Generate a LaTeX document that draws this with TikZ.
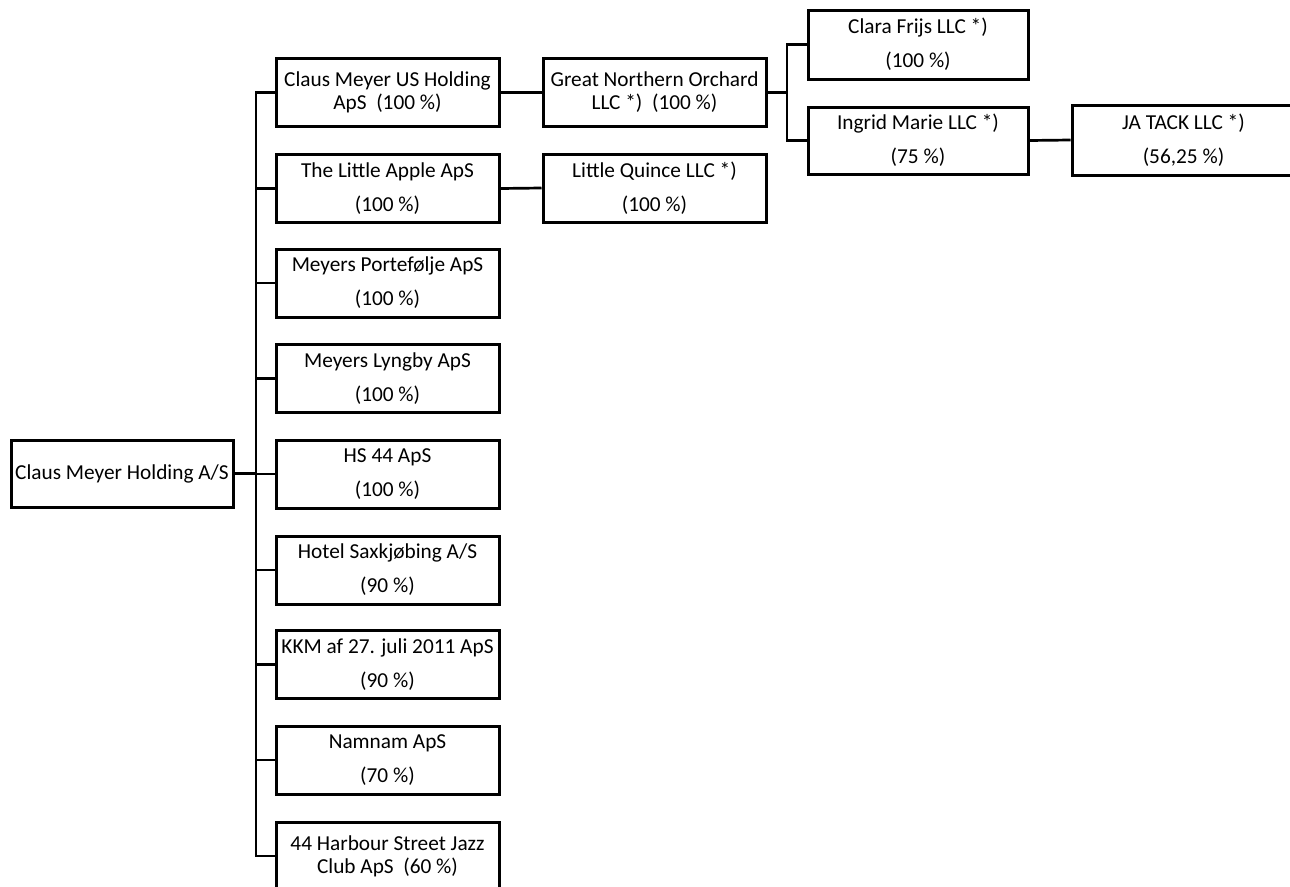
\documentclass[tikz,border=0pt]{standalone}
\usepackage{fontspec}
\setmainfont{Carlito}
\tikzset{%
  firm/.style={draw, line width=3pt, minimum width=223pt, minimum height=68pt,
    inner sep=0pt, align=center, font=\fontsize{21.3}{23}\selectfont},
  link/.style={line width=2.7pt}
}

\begin{document}
\begin{tikzpicture}[x=1pt,y=-1pt]
\clip (0,0) rectangle (1290,886);
% parent
\node[firm, minimum width=222pt, minimum height=67pt] (holding) at (122,473.5) {Claus Meyer Holding A/S};
% first level
\node[firm] (usholding) at (387.5,92.5) {Claus Meyer US Holding\\ApS\ \ (100 \%)};
\node[firm] (apple) at (387.5,188.5) {The Little Apple ApS\\[11pt](100 \%)};
\node[firm] (portef) at (387.5,283) {Meyers Portefølje ApS\\[11pt](100 \%)};
\node[firm] (lyngby) at (387.5,378.5) {Meyers Lyngby ApS\\[11pt](100 \%)};
\node[firm] (hs) at (387.5,474) {HS 44 ApS\\[11pt](100 \%)};
\node[firm] (hotel) at (387.5,570) {Hotel Saxkjøbing A/S\\[11pt](90 \%)};
\node[firm] (kkm) at (387.5,664.5) {KKM af 27. juli 2011 ApS\\[11pt](90 \%)};
\node[firm] (namnam) at (387.5,760) {Namnam ApS\\[11pt](70 \%)};
\node[firm] (jazz) at (387.5,856) {44 Harbour Street Jazz\\Club ApS\ \ (60 \%)};
% second level
\node[firm] (orchard) at (654.5,92.5) {Great Northern Orchard\\LLC *)\ \ (100 \%)};
\node[firm] (quince) at (654.5,188) {Little Quince LLC *)\\[11pt](100 \%)};
% third level
\node[firm, minimum width=220pt, minimum height=69pt] (clara) at (918,44.5) {Clara Frijs LLC *)\\[11pt](100 \%)};
\node[firm, minimum width=220pt, minimum height=67pt] (ingrid) at (918,140.5) {Ingrid Marie LLC *)\\[11pt](75 \%)};
\node[firm, minimum height=70pt] (jatack) at (1183.5,140) {JA TACK LLC *)\\[11pt](56,25 \%)};
% connectors
\coordinate (trunk) at (256,473.5);
\coordinate (fork) at (787,92.5);
\draw[link] (holding.east) -- (trunk);
\draw[link] (usholding.west) -| (trunk) |- (jazz.west);
\draw[link] (trunk |- apple.west) -- (apple.west);
\draw[link] (trunk |- portef.west) -- (portef.west);
\draw[link] (trunk |- lyngby.west) -- (lyngby.west);
\draw[link] (trunk |- hs.west) -- (hs.west);
\draw[link] (trunk |- hotel.west) -- (hotel.west);
\draw[link] (trunk |- kkm.west) -- (kkm.west);
\draw[link] (trunk |- namnam.west) -- (namnam.west);
\draw[link] (usholding.east) -- (orchard.west);
\draw[link] (apple.east) -- (quince.west);
\draw[link] (orchard.east) -- (fork);
\draw[link] (clara.west) -| (fork) |- (ingrid.west);
\draw[link] (ingrid.east) -- (jatack.west);
\end{tikzpicture}
\end{document}
